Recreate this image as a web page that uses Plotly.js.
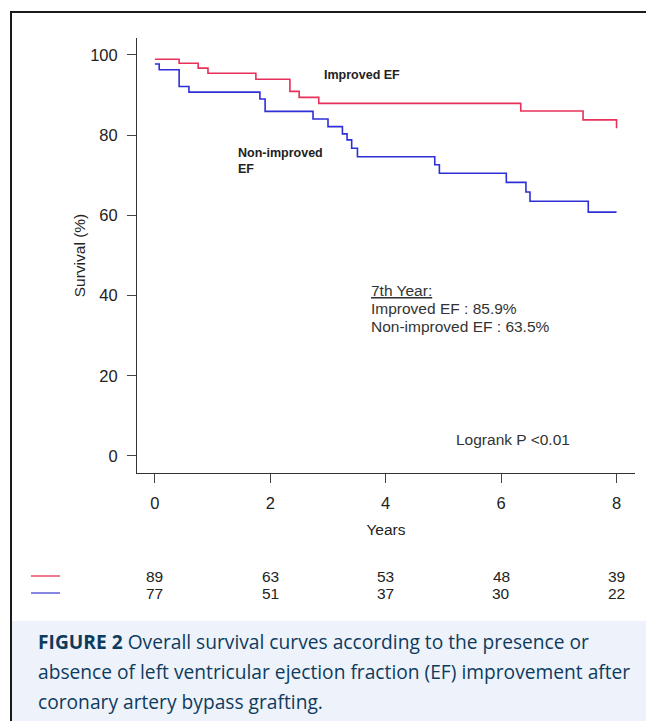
<!DOCTYPE html>
<html>
<head>
<meta charset="utf-8">
<script src="https://cdn.plot.ly/plotly-3.0.1.min.js"></script>
<style>
  html, body { margin: 0; padding: 0; background: #fff; }
  #chart { width: 646px; height: 721px; }
</style>
</head>
<body>
<div id="chart"></div>
<script>
// ---- Data ----
const improvedTimes = [0, 0.42, 0.75, 0.92, 1.75, 2.34, 2.50, 2.84, 6.34, 7.42, 8.0];
const improvedSurv  = [98.9, 97.9, 96.7, 95.4, 93.9, 90.9, 89.4, 87.9, 86.0, 83.8, 81.7];

const nonImprovedTimes = [0, 0.075, 0.42, 0.59, 1.82, 1.91, 2.74, 3.0, 3.25, 3.33, 3.41, 3.51, 4.85, 4.93, 6.09, 6.43, 6.50, 7.51, 8.0];
const nonImprovedSurv  = [97.7, 96.3, 92.1, 90.7, 89.0, 85.9, 84.0, 82.1, 80.3, 78.8, 76.7, 74.6, 72.6, 70.5, 68.2, 65.8, 63.5, 60.8, 60.8];

const riskTimes = [0, 2, 4, 6, 8];
const riskImproved = [89, 63, 53, 48, 39];
const riskNonImproved = [77, 51, 37, 30, 22];

const xTicks = [0, 2, 4, 6, 8];
const yTicks = [0, 20, 40, 60, 80, 100];

const statLines = ["<u>7th Year:</u>", "Improved EF : 85.9%", "Non-improved EF : 63.5%"];

const captionLines = [
  "<b>FIGURE 2</b> Overall survival curves according to the presence or",
  "absence of left ventricular ejection fraction (EF) improvement after",
  "coronary artery bypass grafting."
];

// ---- Styles ----
const RED = "#e8305a";
const BLUE = "#2f2fd8";
const FONT = "Liberation Sans, Arial, sans-serif";
const CAP_FONT = "Open Sans, Noto Sans, sans-serif";
const CAP_COLOR = "#0d3b5e";

const traces = [
  { x: improvedTimes, y: improvedSurv, mode: "lines", line: { shape: "hv", color: RED, width: 1.6 }, hoverinfo: "skip", name: "Improved EF" },
  { x: nonImprovedTimes, y: nonImprovedSurv, mode: "lines", line: { shape: "hv", color: BLUE, width: 1.6 }, hoverinfo: "skip", name: "Non-improved EF" }
];

// plot area: left 137, right 635, top 38, bottom 473 (px)
const L = 137, R = 635, T = 38, B = 473, W = 646, H = 721;
const px = v => (v - L) / (R - L);      // px -> paper x
const py = v => (B - v) / (B - T);      // px -> paper y

const annotations = [
  { x: 2.89, y: 95.0, xref: "x", yref: "y", xanchor: "left", yanchor: "middle", showarrow: false,
    text: "<b>Improved EF</b>", font: { family: FONT, size: 12.5, color: "#222" } },
  { x: 1.40, y: 73.6, xref: "x", yref: "y", xanchor: "left", yanchor: "middle", showarrow: false, align: "left",
    text: "<b>Non-improved<br>EF</b>", font: { family: FONT, size: 12.5, color: "#222" } },
  { x: 5.18, y: 4.2, xref: "x", yref: "y", xanchor: "left", yanchor: "middle", showarrow: false,
    text: "Logrank P &lt;0.01", font: { family: FONT, size: 15.5, color: "#333" } }
];

const statY = [290, 308, 326];
statLines.forEach((txt, i) => {
  annotations.push({ x: px(369), y: py(statY[i]), xref: "paper", yref: "paper", xanchor: "left", yanchor: "middle",
    showarrow: false, text: txt, font: { family: FONT, size: 15.5, color: "#333" } });
});

riskTimes.forEach((t, i) => {
  annotations.push({ x: t, y: py(576), xref: "x", yref: "paper", xanchor: "center", yanchor: "middle", showarrow: false,
    text: String(riskImproved[i]), font: { family: FONT, size: 15.5, color: "#222" } });
  annotations.push({ x: t, y: py(593), xref: "x", yref: "paper", xanchor: "center", yanchor: "middle", showarrow: false,
    text: String(riskNonImproved[i]), font: { family: FONT, size: 15.5, color: "#222" } });
});

const capY = [641, 671, 701];
captionLines.forEach((txt, i) => {
  annotations.push({ x: px(36), y: py(capY[i]), xref: "paper", yref: "paper", xanchor: "left", yanchor: "middle",
    showarrow: false, align: "left", text: txt, font: { family: CAP_FONT, size: 19.2, weight: 500, color: CAP_COLOR } });
});

const shapes = [
  // caption background
  { type: "rect", xref: "paper", yref: "paper", x0: px(12), x1: px(W + 2), y0: py(621), y1: py(H + 2),
    fillcolor: "#eef3fb", line: { width: 0 }, layer: "below" },
  // frame top & left
  { type: "line", xref: "paper", yref: "paper", x0: px(10), x1: px(W + 2), y0: py(12), y1: py(12), line: { color: "#1a1a1a", width: 2 } },
  { type: "line", xref: "paper", yref: "paper", x0: px(11), x1: px(11), y0: py(11), y1: py(H + 2), line: { color: "#1a1a1a", width: 2 } },
  // risk table legend lines
  { type: "line", xref: "paper", yref: "paper", x0: px(31), x1: px(60), y0: py(576), y1: py(576), line: { color: "#e0203f", width: 1.2 } },
  { type: "line", xref: "paper", yref: "paper", x0: px(31), x1: px(60), y0: py(593), y1: py(593), line: { color: "#3535d0", width: 1.2 } }
];

const layout = {
  width: W, height: H,
  margin: { l: L, r: W - R, t: T, b: H - B, pad: 0 },
  paper_bgcolor: "#ffffff", plot_bgcolor: "#ffffff",
  showlegend: false,
  xaxis: {
    range: [-0.31, 8.32], tickvals: xTicks, ticktext: xTicks.map(String),
    showgrid: false, zeroline: false, showline: true, linecolor: "#333", linewidth: 1,
    ticks: "outside", ticklen: 9, tickwidth: 1, tickcolor: "#444",
    ticklabelstandoff: 6,
    tickfont: { family: FONT, size: 16.5, color: "#222" },
    title: { text: "Years", font: { family: FONT, size: 15.5, color: "#222" }, standoff: 13 },
    fixedrange: true
  },
  yaxis: {
    range: [-4.24, 104.2], tickvals: yTicks, ticktext: yTicks.map(String),
    showgrid: false, zeroline: false, showline: true, linecolor: "#333", linewidth: 1,
    ticks: "outside", ticklen: 9, tickwidth: 1, tickcolor: "#444",
    ticklabelstandoff: 6,
    tickfont: { family: FONT, size: 16.5, color: "#222" },
    title: { text: "Survival (%)", font: { family: FONT, size: 15.5, color: "#222" }, standoff: 0 },
    fixedrange: true
  },
  annotations: annotations,
  shapes: shapes
};

Plotly.newPlot("chart", traces, layout, { displayModeBar: false, staticPlot: true });
</script>
</body>
</html>
